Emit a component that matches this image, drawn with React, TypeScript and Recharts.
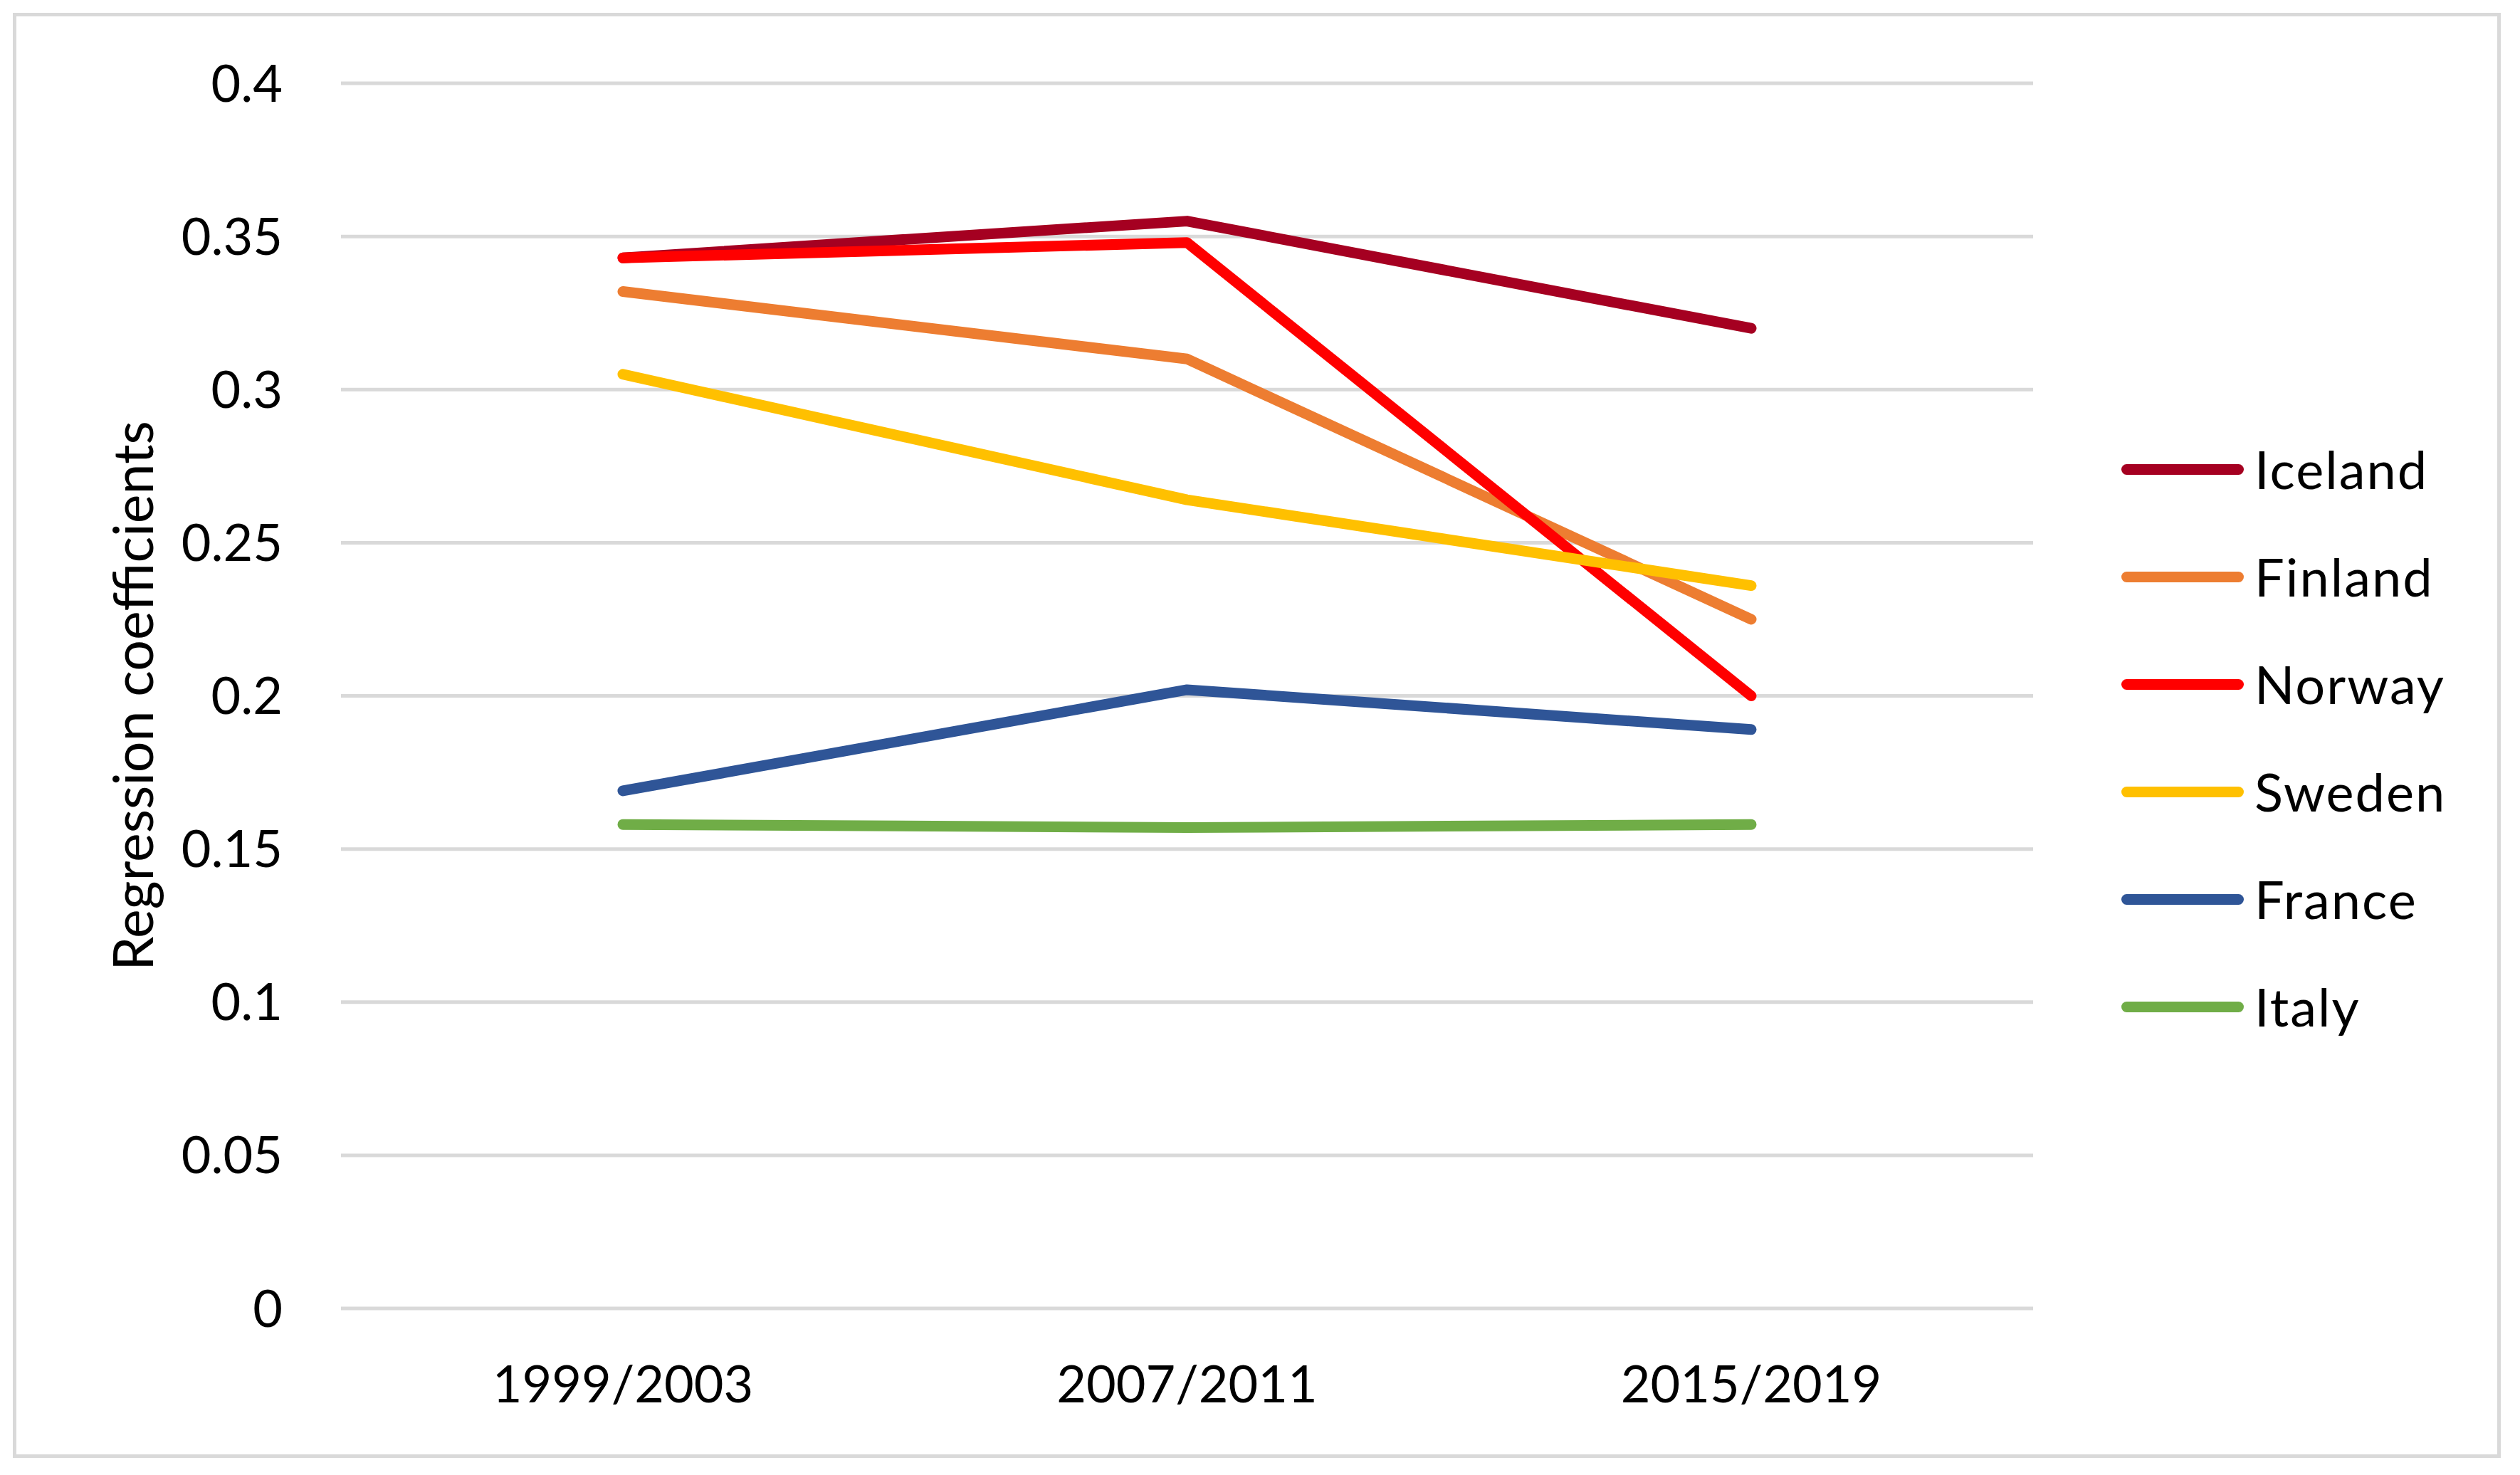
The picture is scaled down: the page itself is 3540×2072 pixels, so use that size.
import { LineChart, Line, XAxis, YAxis, CartesianGrid, Label } from "recharts";

const periods = ["1999/2003", "2007/2011", "2015/2019"];

const iceland = [0.343, 0.355, 0.32];
const finland = [0.332, 0.31, 0.225];
const norway = [0.343, 0.348, 0.2];
const sweden = [0.305, 0.264, 0.236];
const france = [0.169, 0.202, 0.189];
const italy = [0.158, 0.157, 0.158];

const yTicks = [0, 0.05, 0.1, 0.15, 0.2, 0.25, 0.3, 0.35, 0.4];

const series = [
  { key: "Iceland", values: iceland, color: "#A50021" },
  { key: "Finland", values: finland, color: "#ED7D31" },
  { key: "Norway", values: norway, color: "#FF0000" },
  { key: "Sweden", values: sweden, color: "#FFC000" },
  { key: "France", values: france, color: "#2F5597" },
  { key: "Italy", values: italy, color: "#70AD47" },
];

const data = periods.map((p, i) => {
  const row: Record<string, string | number> = { period: p };
  series.forEach((s) => {
    row[s.key] = s.values[i];
  });
  return row;
});

const font = "Lato, 'Open Sans', sans-serif";

export default function App() {
  return (
    <div style={{ position: "relative", width: 3524, height: 2056, background: "#fff", fontFamily: font }}>
      <div
        style={{
          position: "absolute",
          left: 10,
          top: 10,
          width: 3495,
          height: 2030,
          boxSizing: "border-box",
          border: "5px solid #D9D9D9",
        }}
      />
      <div style={{ position: "absolute", left: 0, top: 0 }}>
        <LineChart width={3524} height={2056} data={data} margin={{ top: 109, right: 676, bottom: 0, left: 0 }}>
          <CartesianGrid vertical={false} stroke="#D9D9D9" strokeWidth={5} />
          <XAxis
            dataKey="period"
            axisLine={false}
            tickLine={false}
            tickSize={0}
            tickMargin={81}
            height={226}
            padding={{ left: 396, right: 396 }}
            tick={{ fill: "#000", fontSize: 72, fontFamily: font }}
          />
          <YAxis
            domain={[0, 0.4]}
            ticks={yTicks}
            width={471}
            axisLine={false}
            tickLine={false}
            tickSize={0}
            tickMargin={82}
            tick={{ fill: "#000", fontSize: 72, fontFamily: font }}
          >
            <Label
              value="Regression coefficients"
              angle={-90}
              position="center"
              dx={-56}
              style={{ fill: "#000", fontSize: 77, fontFamily: font, textAnchor: "middle" }}
            />
          </YAxis>
          {series.map((s) => (
            <Line
              key={s.key}
              type="linear"
              dataKey={s.key}
              stroke={s.color}
              strokeWidth={15}
              strokeLinecap="round"
              strokeLinejoin="round"
              dot={false}
              activeDot={false}
              isAnimationActive={false}
            />
          ))}
        </LineChart>
      </div>
      {series.map((s, i) => (
        <div
          key={s.key}
          style={{
            position: "absolute",
            left: 2972,
            top: 651 + i * 151 - 50,
            height: 100,
            display: "flex",
            alignItems: "center",
          }}
        >
          <div style={{ width: 172, height: 15, borderRadius: 8, background: s.color }} />
          <span style={{ marginLeft: 15, fontSize: 74, letterSpacing: 2, color: "#000", lineHeight: "100px" }}>
            {s.key}
          </span>
        </div>
      ))}
    </div>
  );
}
